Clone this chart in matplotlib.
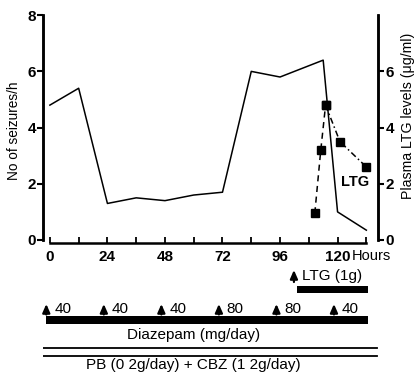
import matplotlib.pyplot as plt
from matplotlib.ticker import MultipleLocator

plt.rcParams['font.family'] = ['Liberation Sans', 'DejaVu Sans']

# seizure frequency (left axis)
hours = [0, 12, 24, 36, 48, 60, 72, 84, 96, 114, 120, 132]
seizures = [4.8, 5.4, 1.3, 1.5, 1.4, 1.6, 1.7, 6.0, 5.8, 6.4, 1.0, 0.35]

# plasma LTG levels (right axis)
ltg_rise_h = [110.5, 113, 115]
ltg_rise = [0.95, 3.2, 4.8]
ltg_fall_h = [115, 121, 132]
ltg_fall = [4.8, 3.5, 2.6]

# treatment schedule
diaz_h = [0, 24, 48, 72, 96, 120]
diaz_dose = ['40', '40', '40', '80', '80', '40']
ltg_start, ltg_end = 103, 132.5
diaz_start, diaz_end = -1.8, 132.5

fig = plt.figure(figsize=(4.15, 3.74), dpi=100)
ax = fig.add_axes([0.1029, 0.3508, 0.8087, 0.6086])
ax2 = ax.twinx()

ax.plot(hours, seizures, color='black', lw=1.1)
ax2.plot(ltg_rise_h, ltg_rise, color='black', lw=1.1, ls=(0, (4, 3)),
         marker='s', ms=6)
ax2.plot(ltg_fall_h, ltg_fall, color='black', lw=1.1, ls=(0, (4, 2, 1, 2)),
         marker='s', ms=6)
ax2.text(133, 2.05, 'LTG', fontsize=10.5, fontweight='bold', ha='right', va='center')

for a in (ax, ax2):
    a.set_xlim(-3, 137)
    a.set_ylim(-0.1, 8)
    a.spines['top'].set_visible(False)
    a.spines['left'].set_bounds(0, 8)
    a.spines['right'].set_bounds(0, 8)
    a.spines['bottom'].set_bounds(0, 132)
    for s in a.spines.values():
        s.set_linewidth(1.8)
ax2.spines['bottom'].set_visible(False)

ax.set_yticks([0, 2, 4, 6, 8])
ax2.set_yticks([0, 2, 4, 6])
ax.set_xticks([0, 24, 48, 72, 96, 120])
ax.xaxis.set_minor_locator(MultipleLocator(12))
ax.tick_params(axis='x', which='both', direction='in', length=4, width=1.3, pad=5,
               labelsize=11)
ax.tick_params(axis='y', direction='out', length=4, width=1.5, pad=1, labelsize=11)
ax2.tick_params(axis='y', direction='out', length=4, width=1.5, pad=1, labelsize=11)
for lab in ax.get_xticklabels() + ax.get_yticklabels() + ax2.get_yticklabels():
    lab.set_fontweight('bold')

ax.set_ylabel('No of seizures/h', fontsize=9.8)
ax.yaxis.set_label_coords(-0.066, 0.491)
ax2.set_ylabel('Plasma LTG levels (\u03bcg/ml)', fontsize=10.2)
ax2.yaxis.set_label_coords(1.068, 0.557)
ax.text(0.9216, -0.057, 'Hours', transform=ax.transAxes, fontsize=10.5,
        ha='left', va='center')

# treatment panel below, y in pixel rows of the figure
axb = fig.add_axes([0.1029, 0.0, 0.8087, 112 / 374])
axb.set_xlim(-3, 137)
axb.set_ylim(374, 262)
axb.axis('off')

arrow = dict(arrowstyle='-|>,head_width=0.22,head_length=0.5', lw=1.6,
             color='black', shrinkA=0, shrinkB=0, mutation_scale=10)

axb.annotate('', xy=(ltg_start - 1.2, 270), xytext=(ltg_start - 1.2, 282),
             arrowprops=arrow)
axb.text(ltg_start + 2.2, 276, 'LTG (1g)', fontsize=11, va='center')
axb.barh(289.5, ltg_end - ltg_start, left=ltg_start, height=7.5, color='black')

for h, d in zip(diaz_h, diaz_dose):
    axb.annotate('', xy=(h - 1.5, 304), xytext=(h - 1.5, 314.5), arrowprops=arrow)
    axb.text(h + 1.8, 309, d, fontsize=11, va='center')
axb.barh(320, diaz_end - diaz_start, left=diaz_start, height=8.5, color='black')
axb.text(60, 335, 'Diazepam (mg/day)', fontsize=11, ha='center', va='center')

axb.plot([-7.6, 136.5], [347.7, 347.7], color='black', lw=1.3)
axb.plot([-7.6, 136.5], [356, 356], color='black', lw=1.3)
axb.text(60, 365.5, 'PB (0 2g/day) + CBZ (1 2g/day)', fontsize=11,
         ha='center', va='center')

fig.savefig('out.png', dpi=100)
